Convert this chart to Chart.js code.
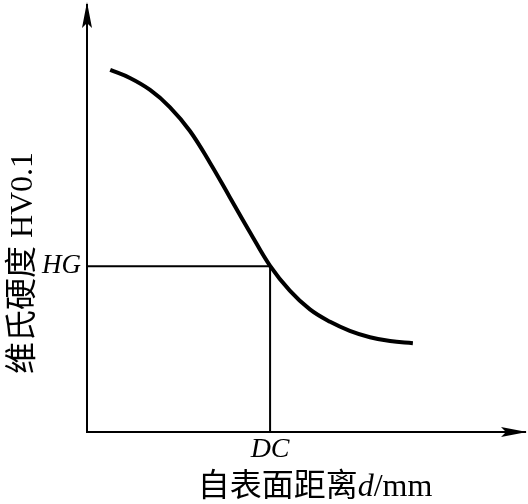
<!DOCTYPE html>
<html>
<head>
<meta charset="utf-8">
<script src="https://cdn.jsdelivr.net/npm/chart.js@4"></script>
<style>
  html, body { margin: 0; padding: 0; background: #fff; }
  #wrap { width: 528px; height: 504px; }
</style>
</head>
<body>
<div id="wrap"><canvas id="hardnessChart"></canvas></div>
<script>
// hardness profile (arbitrary units, axis 0..100)
const depth = [5.3, 9.8, 14.4, 18.9, 23.5, 28.1, 32.6, 37.2, 41.8, 46.3, 50.9, 55.5, 60, 64.6, 69.2, 74.4];
const hardness = [84.8, 82.9, 80.1, 76.1, 70.5, 63, 55, 46.8, 38.9, 33.1, 28.7, 25.8, 23.7, 22.2, 21.3, 20.8];
const DC = 41.8;
const HG = 38.8;
const xTickLabels = ['DC'];
const yTickLabels = ['HG'];

const serif = '"Liberation Serif", "Noto Sans CJK SC", serif';

const axisDecor = {
  id: 'axisDecor',
  afterDraw(chart) {
    const { ctx, chartArea } = chart;
    const l = chartArea.left, b = chartArea.bottom;
    ctx.save();
    ctx.fillStyle = '#000';
    // y arrow
    ctx.beginPath();
    ctx.moveTo(l, 2);
    ctx.lineTo(l - 5, 28);
    ctx.lineTo(l, 23);
    ctx.lineTo(l + 5, 28);
    ctx.closePath();
    ctx.fill();
    // x arrow
    const r = chartArea.right;
    ctx.beginPath();
    ctx.moveTo(r + 2, b);
    ctx.lineTo(r - 24, b - 5);
    ctx.lineTo(r - 19, b);
    ctx.lineTo(r - 24, b + 5);
    ctx.closePath();
    ctx.fill();

    // y title
    ctx.save();
    ctx.translate(24, 263);
    ctx.rotate(-Math.PI / 2);
    ctx.font = '32px ' + serif;
    ctx.textAlign = 'center';
    ctx.textBaseline = 'middle';
    ctx.fillText('维氏硬度 HV0.1', 0, 0);
    ctx.restore();

    // x title, with italic d
    const parts = [
      ['自表面距离', '32px ' + serif],
      ['d', 'italic 32px ' + serif],
      ['/mm', '32px ' + serif]
    ];
    let total = 0;
    parts.forEach(p => { ctx.font = p[1]; total += ctx.measureText(p[0]).width; });
    let x = 315 - total / 2;
    ctx.textBaseline = 'middle';
    ctx.textAlign = 'left';
    parts.forEach(p => {
      ctx.font = p[1];
      ctx.fillText(p[0], x, 488);
      x += ctx.measureText(p[0]).width;
    });
    ctx.restore();
  }
};

new Chart(document.getElementById('hardnessChart'), {
  type: 'line',
  data: {
    datasets: [
      {
        data: depth.map((d, i) => ({ x: d, y: hardness[i] })),
        borderColor: '#000',
        borderWidth: 4,
        pointRadius: 0,
        tension: 0.4,
        fill: false
      },
      {
        data: [{ x: 0, y: HG }, { x: DC, y: HG }, { x: DC, y: 0 }],
        borderColor: '#000',
        borderWidth: 2,
        pointRadius: 0,
        tension: 0,
        fill: false
      }
    ]
  },
  plugins: [axisDecor],
  options: {
    responsive: true,
    maintainAspectRatio: false,
    animation: false,
    layout: { padding: { left: 0, right: 3, top: 5, bottom: 0 } },
    plugins: {
      legend: { display: false },
      tooltip: { enabled: false }
    },
    scales: {
      x: {
        type: 'linear',
        min: 0,
        max: 100,
        grid: { display: false, drawTicks: false, tickLength: 0 },
        border: { display: true, color: '#000', width: 2 },
        afterBuildTicks: s => { s.ticks = [{ value: DC }]; },
        afterFit: s => { s.height = 72; s.paddingLeft = 0; s.paddingRight = 0; },
        ticks: {
          padding: 1,
          color: '#000',
          font: { family: serif, size: 28, style: 'italic' },
          callback: (v, i) => xTickLabels[i]
        }
      },
      y: {
        type: 'linear',
        min: 0,
        max: 100,
        grid: { display: false, drawTicks: false, tickLength: 0 },
        border: { display: true, color: '#000', width: 2 },
        afterBuildTicks: s => { s.ticks = [{ value: HG }]; },
        afterFit: s => { s.width = 87; s.paddingTop = 0; s.paddingBottom = 0; },
        ticks: {
          padding: 6,
          color: '#000',
          font: { family: serif, size: 27, style: 'italic' },
          callback: (v, i) => yTickLabels[i]
        }
      }
    }
  }
});
</script>
</body>
</html>
